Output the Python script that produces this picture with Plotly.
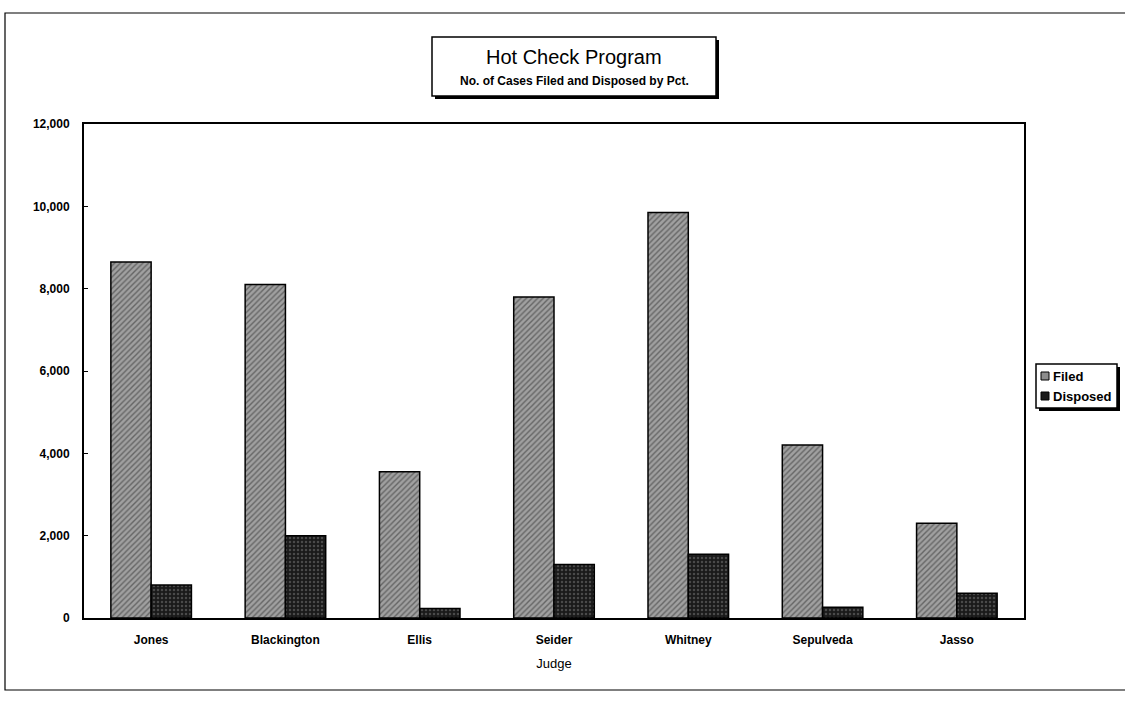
import plotly.graph_objects as go

judges = ["Jones", "Blackington", "Ellis", "Seider", "Whitney", "Sepulveda", "Jasso"]
filed = [8650, 8100, 3550, 7800, 9850, 4200, 2300]
disposed = [800, 2000, 230, 1300, 1550, 260, 600]
y_ticks = [0, 2000, 4000, 6000, 8000, 10000, 12000]
series_names = ["Filed", "Disposed"]

W, H = 1125, 706
L, R, T, B = 84, 1024, 124, 618


def px(x):
    return (x - L) / (R - L)


def py(y):
    return (B - y) / (B - T)


FONT = "Arial, 'Liberation Sans', sans-serif"
FILED_STYLE = dict(color="#9c9c9c", line=dict(color="black", width=1.5),
                   pattern=dict(shape="/", fgcolor="#2a2a2a", bgcolor="#a0a0a0", size=4, solidity=0.35))
DISP_STYLE = dict(color="#222222", line=dict(color="black", width=1.5),
                  pattern=dict(shape=".", fgcolor="#7a7a7a", bgcolor="#1a1a1a", size=4, solidity=0.3))

fig = go.Figure()
fig.add_trace(go.Bar(name=series_names[0], x=judges, y=filed, marker=FILED_STYLE, showlegend=False))
fig.add_trace(go.Bar(name=series_names[1], x=judges, y=disposed, marker=DISP_STYLE, showlegend=False))

fig.update_layout(
    width=W, height=H,
    paper_bgcolor="white", plot_bgcolor="white",
    margin=dict(l=L, r=W - R, t=T, b=H - B, autoexpand=False),
    barmode="group", bargap=0.4, bargroupgap=0,
    font=dict(family=FONT, color="black", size=12),
    xaxis=dict(showline=True, linecolor="black", linewidth=2, mirror=True,
               showgrid=False, ticks="", ticklabelstandoff=10,
               tickfont=dict(size=12, family=FONT, weight="bold"),
               title=dict(text="Judge", standoff=12, font=dict(size=13, family=FONT))),
    yaxis=dict(range=[0, 12000], tickvals=y_ticks, tickformat=",",
               showline=True, linecolor="black", linewidth=2, mirror=True,
               showgrid=False, ticks="inside", ticklen=4, tickcolor="black",
               ticklabelstandoff=10,
               tickfont=dict(size=12, family=FONT, weight="bold")),
)

# outer frame of the scanned chart
fig.add_shape(type="rect", xref="paper", yref="paper",
              x0=px(5), x1=px(1130), y0=py(690), y1=py(13),
              line=dict(color="black", width=1.2), fillcolor="rgba(0,0,0,0)", layer="below")

# title box with drop shadow
fig.add_shape(type="rect", xref="paper", yref="paper",
              x0=px(435), x1=px(719), y0=py(99), y1=py(40),
              line=dict(color="black", width=0), fillcolor="black")
fig.add_shape(type="rect", xref="paper", yref="paper",
              x0=px(432), x1=px(716), y0=py(96), y1=py(37),
              line=dict(color="black", width=1.5), fillcolor="white")
fig.add_annotation(xref="paper", yref="paper", x=px(574), y=py(57),
                   text="Hot Check Program", showarrow=False,
                   font=dict(size=20, family=FONT), xanchor="center", yanchor="middle")
fig.add_annotation(xref="paper", yref="paper", x=px(574), y=py(81),
                   text="<b>No. of Cases Filed and Disposed by Pct.</b>", showarrow=False,
                   font=dict(size=12, family=FONT), xanchor="center", yanchor="middle")

# legend box with drop shadow
fig.add_shape(type="rect", xref="paper", yref="paper",
              x0=px(1039), x1=px(1120), y0=py(411), y1=py(367),
              line=dict(color="black", width=0), fillcolor="black")
fig.add_shape(type="rect", xref="paper", yref="paper",
              x0=px(1036), x1=px(1117), y0=py(408), y1=py(364),
              line=dict(color="black", width=1.5), fillcolor="white")
for i, (name, col) in enumerate(zip(series_names, ["#8c8c8c", "#1a1a1a"])):
    yc = 376 + 20 * i
    fig.add_shape(type="rect", xref="paper", yref="paper",
                  x0=px(1041), x1=px(1049), y0=py(yc + 4), y1=py(yc - 4),
                  line=dict(color="black", width=1), fillcolor=col)
    fig.add_annotation(xref="paper", yref="paper", x=px(1051), y=py(yc),
                       text="<b>%s</b>" % name, showarrow=False, xanchor="left", yanchor="middle",
                       font=dict(size=13, family=FONT))

fig.write_html("out.html", config={"displayModeBar": False},
               post_script="document.body.style.margin='0';document.body.style.overflow='hidden';")
